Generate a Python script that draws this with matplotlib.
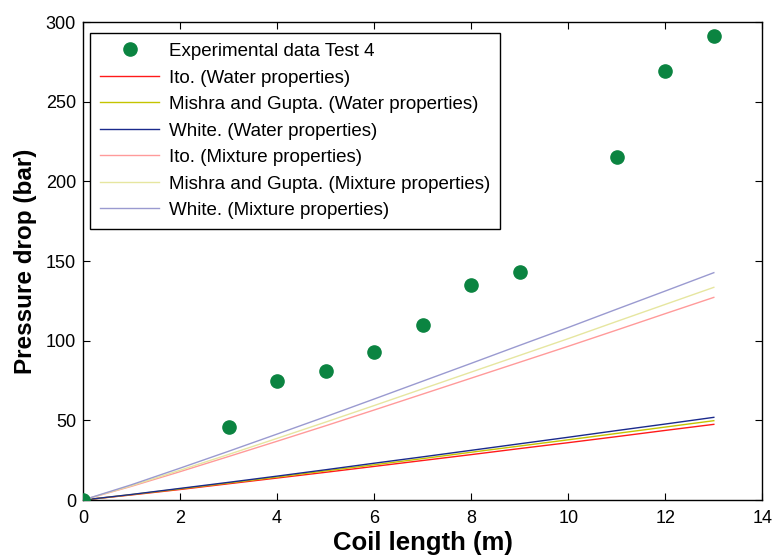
import matplotlib
matplotlib.use("Agg")
import matplotlib.pyplot as plt

plt.rcParams['font.family'] = ['Liberation Sans', 'DejaVu Sans']

# experimental data, Test 4
exp_x = [0, 3, 4, 5, 6, 7, 8, 9, 11, 12, 13]
exp_dp = [0, 46, 75, 81, 93, 110, 135, 143, 215, 269, 291]

# model curves (read at each metre of coil)
coil_x = [0, 1, 2, 3, 4, 5, 6, 7, 8, 9, 10, 11, 12, 13]
ito_water = [0, 3.2, 6.6, 10.2, 13.8, 17.4, 21.1, 24.8, 28.5, 32.3, 36.0, 39.8, 43.7, 47.5]
mishra_water = [0, 3.4, 7.0, 10.7, 14.4, 18.3, 22.1, 26.0, 30.0, 33.9, 37.8, 41.8, 45.8, 49.8]
white_water = [0, 3.5, 7.3, 11.1, 15.0, 19.0, 23.1, 27.1, 31.2, 35.3, 39.4, 43.6, 47.7, 51.9]
ito_mix = [0, 8.6, 17.8, 27.3, 36.9, 46.6, 56.5, 66.5, 76.5, 86.5, 96.5, 106.7, 117.0, 127.2]
mishra_mix = [0, 9.0, 18.7, 28.6, 38.7, 48.9, 59.3, 69.8, 80.3, 90.8, 101.3, 112.1, 122.8, 133.5]
white_mix = [0, 9.6, 20.0, 30.6, 41.4, 52.3, 63.4, 74.6, 85.8, 97.1, 108.3, 119.8, 131.2, 142.7]

fig = plt.figure(figsize=(7.72, 5.59), dpi=100)
ax = fig.add_axes([0.1075, 0.1055, 0.88, 0.855])

ax.plot(exp_x, exp_dp, 'o', color='#0b8441', markersize=9.5, label='Experimental data Test 4', zorder=5)
ax.plot(coil_x, ito_water, color='#ff1a1a', lw=1.0, label='Ito. (Water properties)')
ax.plot(coil_x, mishra_water, color='#c4c400', lw=1.0, label='Mishra and Gupta. (Water properties)')
ax.plot(coil_x, white_water, color='#1a2a8c', lw=1.0, label='White. (Water properties)')
ax.plot(coil_x, ito_mix, color='#ff9a9a', lw=1.0, label='Ito. (Mixture properties)')
ax.plot(coil_x, mishra_mix, color='#e6e6a0', lw=1.0, label='Mishra and Gupta. (Mixture properties)')
ax.plot(coil_x, white_mix, color='#9a9ad0', lw=1.0, label='White. (Mixture properties)')

ax.set_xlim(0, 14)
ax.set_ylim(0, 300)
ax.set_xticks(range(0, 15, 2))
ax.set_yticks(range(0, 301, 50))
ax.tick_params(direction='in', top=True, right=True, labelsize=13, length=5)
ax.tick_params(axis='x', pad=7)
ax.tick_params(axis='y', pad=5)
for s in ax.spines.values():
    s.set_linewidth(1.0)

ax.set_xlabel('Coil length (m)', fontsize=18.5, fontweight='bold', labelpad=3)
ax.set_ylabel('Pressure drop (bar)', fontsize=17.5, fontweight='bold', labelpad=6)

leg = ax.legend(loc='upper left', bbox_to_anchor=(0.01, 0.978), fontsize=13.5,
                frameon=True, fancybox=False, edgecolor='black', framealpha=1,
                handlelength=3.15, handletextpad=0.5, borderpad=0.55,
                labelspacing=0.5, numpoints=1, borderaxespad=0)
leg.get_frame().set_linewidth(1.0)

fig.savefig('out.png', dpi=100)
